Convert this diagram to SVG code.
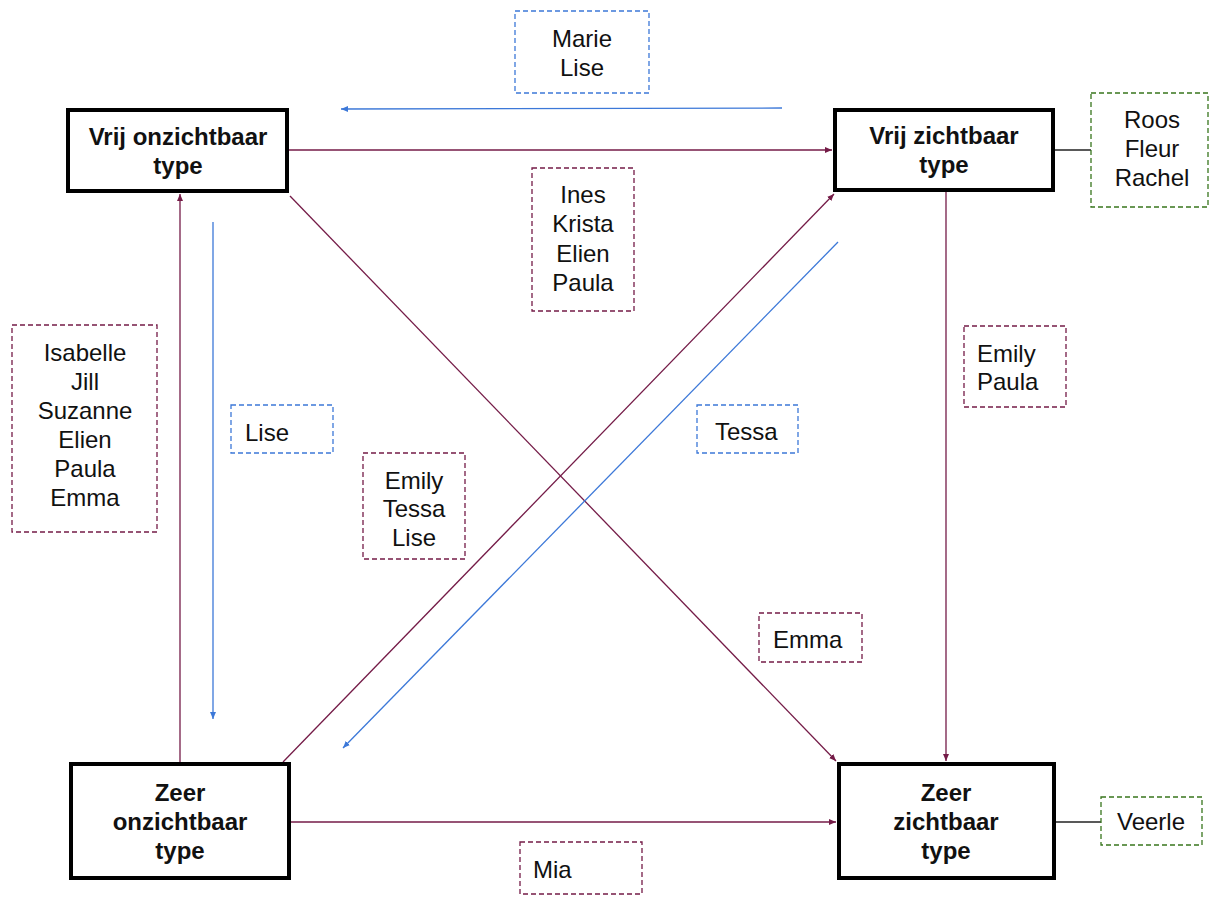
<svg xmlns="http://www.w3.org/2000/svg" width="1211" height="897" viewBox="0 0 1211 897">
<style>
.node rect{fill:#fff;stroke:#000;stroke-width:4}
.node text{font-family:"Liberation Sans",Arial,sans-serif;font-weight:bold;font-size:24px;fill:#111;text-anchor:middle}
.lbl text{font-family:"Liberation Sans",Arial,sans-serif;font-size:24px;fill:#111}
.lbl .c{text-anchor:middle}
.lbl rect{fill:none;stroke-width:1.3;stroke-dasharray:5 3}
.r rect{stroke:#741b47}
.b rect{stroke:#3c78d8}
.g rect{stroke:#38761d}
.er{stroke:#741b47;stroke-width:1.3;fill:none}
.eb{stroke:#3c78d8;stroke-width:1.3;fill:none}
.ek{stroke:#222;stroke-width:1.3;fill:none}
</style>
<defs>
<marker id="ar" markerWidth="8" markerHeight="8" refX="7" refY="4" orient="auto" markerUnits="userSpaceOnUse"><path d="M0,1 L7,4 L0,7 Z" fill="#741b47"/></marker>
<marker id="ab" markerWidth="8" markerHeight="8" refX="7" refY="4" orient="auto" markerUnits="userSpaceOnUse"><path d="M0,1 L7,4 L0,7 Z" fill="#3c78d8"/></marker>
</defs>
<rect width="1211" height="897" fill="#fff"/>
<g id="connectors">
<line class="er" x1="289" y1="150" x2="832" y2="150" marker-end="url(#ar)"/>
<line class="er" x1="291" y1="822" x2="836" y2="822" marker-end="url(#ar)"/>
<line class="er" x1="946" y1="192" x2="946" y2="761" marker-end="url(#ar)"/>
<line class="er" x1="180" y1="762" x2="180" y2="194" marker-end="url(#ar)"/>
<line class="er" x1="290" y1="196" x2="836" y2="761" marker-end="url(#ar)"/>
<line class="er" x1="283" y1="762" x2="834" y2="194" marker-end="url(#ar)"/>
<line class="eb" x1="782" y1="108" x2="341" y2="109" marker-end="url(#ab)"/>
<line class="eb" x1="213" y1="222" x2="213" y2="719" marker-end="url(#ab)"/>
<line class="eb" x1="838" y1="242" x2="343" y2="748" marker-end="url(#ab)"/>
<line class="ek" x1="1055" y1="150" x2="1091" y2="150"/>
<line class="ek" x1="1056" y1="822" x2="1101" y2="822"/>
</g>
<g id="node-vrij-onzichtbaar" class="node">
<rect x="68" y="110" width="219" height="81"/>
<text x="178" y="145">Vrij onzichtbaar</text>
<text x="178" y="174">type</text>
</g>
<g id="node-vrij-zichtbaar" class="node">
<rect x="835" y="110" width="218" height="80"/>
<text x="944" y="144">Vrij zichtbaar</text>
<text x="944" y="173">type</text>
</g>
<g id="node-zeer-onzichtbaar" class="node">
<rect x="71" y="764" width="218" height="114"/>
<text x="180" y="801">Zeer</text>
<text x="180" y="830">onzichtbaar</text>
<text x="180" y="859">type</text>
</g>
<g id="node-zeer-zichtbaar" class="node">
<rect x="839" y="764" width="215" height="114"/>
<text x="946" y="801">Zeer</text>
<text x="946" y="830">zichtbaar</text>
<text x="946" y="859">type</text>
</g>
<g id="lbl-marie" class="lbl b">
<rect x="515" y="11" width="134" height="82"/>
<text class="c" x="582" y="47">Marie</text>
<text class="c" x="582" y="76">Lise</text>
</g>
<g id="lbl-ines" class="lbl r">
<rect x="532" y="168" width="102" height="143"/>
<text class="c" x="583" y="203">Ines</text>
<text class="c" x="583" y="232">Krista</text>
<text class="c" x="583" y="262">Elien</text>
<text class="c" x="583" y="291">Paula</text>
</g>
<g id="lbl-roos" class="lbl g">
<rect x="1091" y="93" width="117" height="114"/>
<text class="c" x="1152" y="128">Roos</text>
<text class="c" x="1152" y="157">Fleur</text>
<text class="c" x="1152" y="186">Rachel</text>
</g>
<g id="lbl-isabelle" class="lbl r">
<rect x="12" y="325" width="145" height="207"/>
<text class="c" x="85" y="361">Isabelle</text>
<text class="c" x="85" y="390">Jill</text>
<text class="c" x="85" y="419">Suzanne</text>
<text class="c" x="85" y="448">Elien</text>
<text class="c" x="85" y="477">Paula</text>
<text class="c" x="85" y="506">Emma</text>
</g>
<g id="lbl-lise" class="lbl b">
<rect x="231" y="405" width="102" height="48"/>
<text x="245" y="441">Lise</text>
</g>
<g id="lbl-emily-tessa-lise" class="lbl r">
<rect x="363" y="453" width="102" height="106"/>
<text class="c" x="414" y="489">Emily</text>
<text class="c" x="414" y="517">Tessa</text>
<text class="c" x="414" y="546">Lise</text>
</g>
<g id="lbl-tessa" class="lbl b">
<rect x="697" y="405" width="101" height="48"/>
<text x="715" y="440">Tessa</text>
</g>
<g id="lbl-emily-paula" class="lbl r">
<rect x="964" y="326" width="102" height="81"/>
<text x="977" y="362">Emily</text>
<text x="977" y="390">Paula</text>
</g>
<g id="lbl-emma" class="lbl r">
<rect x="759" y="613" width="103" height="49"/>
<text x="773" y="648">Emma</text>
</g>
<g id="lbl-mia" class="lbl r">
<rect x="520" y="842" width="122" height="52"/>
<text x="533" y="878">Mia</text>
</g>
<g id="lbl-veerle" class="lbl g">
<rect x="1101" y="797" width="101" height="48"/>
<text class="c" x="1151" y="830">Veerle</text>
</g>
</svg>
